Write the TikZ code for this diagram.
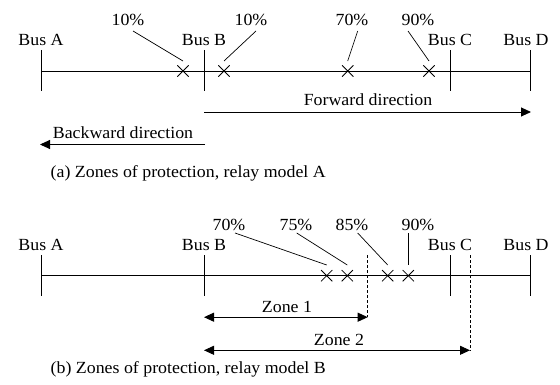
\documentclass[tikz,border=0pt]{standalone}
\usepackage{fontspec}
\setmainfont{Liberation Serif}[FakeStretch=1.05]
\usetikzlibrary{arrows.meta,shapes.misc}

\tikzset{
  bus/.style={line width=0.9pt},
  leader/.style={line width=0.7pt},
  crossmark/.style={cross out,draw,line width=0.8pt,minimum size=10.5pt,inner sep=0pt},
  txt/.style={inner sep=0pt,anchor=base},
  dirarrow/.style={line width=0.9pt,-{Triangle[length=10pt,width=9pt]}},
  zonearrow/.style={line width=0.9pt,{Triangle[length=10pt,width=9pt]}-{Triangle[length=10pt,width=9pt]}},
  zoneend/.style={line width=0.7pt,dash pattern=on 3pt off 2pt}
}

\begin{document}
\begin{tikzpicture}[x=1pt,y=-1pt,font=\fontsize{17}{20}\selectfont]
\useasboundingbox (0,0) rectangle (560,385);

% (a) relay model A
\foreach \n/\x/\lx in {A/41/41,B/204/204,C/450/450,D/530.5/526} {
  \coordinate (pa\n) at (\x,71);
  \draw[bus] (\x,50) -- (\x,91);
  \node[txt] (la\n) at (\lx,46) {Bus \n};
}
\draw[bus] (paA) -- (paD);
\foreach \i/\t/\lx/\tx/\cx in {1/10\%/128/133/183,2/10\%/251/256/224,3/70\%/352/357.7/347.7,4/90\%/418/408/429} {
  \node[txt] (ta\i) at (\lx,26) {\t};
  \node[crossmark] (xa\i) at (\cx,71) {};
  \coordinate (ua\i) at (\tx,31);
  \coordinate (va\i) at (\cx,61);
  \draw[leader] (ua\i) -- (va\i);
}
\coordinate (fwdS) at (204,112);
\coordinate (fwdE) at (531,112);
\draw[dirarrow] (fwdS) -- (fwdE);
\node[txt] (fwd) at (368,106) {Forward direction};
\coordinate (bwdS) at (205,144.5);
\coordinate (bwdE) at (40,144.5);
\draw[dirarrow] (bwdS) -- (bwdE);
\node[txt] (bwd) at (123,139) {Backward direction};
\node[txt,anchor=base west] (capA) at (50.5,178) {(a) Zones of protection, relay model A};

% (b) relay model B
\foreach \n/\x/\lx in {A/41/41,B/204/204,C/450/450,D/530.5/526} {
  \coordinate (pb\n) at (\x,275.7);
  \draw[bus] (\x,255) -- (\x,296);
  \node[txt] (lb\n) at (\lx,250) {Bus \n};
}
\draw[bus] (pbA) -- (pbD);
\foreach \i/\t/\lx/\tx/\cx in {1/70\%/229/235/326.7,2/75\%/296/296.7/347.3,3/85\%/352/357.7/387.7,4/90\%/418/408.3/408.3} {
  \node[txt] (tb\i) at (\lx,230) {\t};
  \node[crossmark] (xb\i) at (\cx,275.7) {};
  \coordinate (ub\i) at (\tx,233);
  \coordinate (vb\i) at (\cx,265);
  \draw[leader] (ub\i) -- (vb\i);
}
\coordinate (z1S) at (204,317.2);
\coordinate (z1E) at (367.7,317.2);
\coordinate (z1T) at (367.7,255);
\coordinate (z2S) at (204,350.3);
\coordinate (z2E) at (470,350.3);
\coordinate (z2T) at (470,255);
\draw[zoneend] (z1T) -- (z1E);
\draw[zoneend] (z2T) -- (z2E);
\draw[zonearrow] (z1S) -- (z1E);
\draw[zonearrow] (z2S) -- (z2E);
\node[txt] (zone1) at (287,312.6) {Zone 1};
\node[txt] (zone2) at (339,345) {Zone 2};
\node[txt,anchor=base west] (capB) at (50.5,373) {(b) Zones of protection, relay model B};
\end{tikzpicture}
\end{document}
